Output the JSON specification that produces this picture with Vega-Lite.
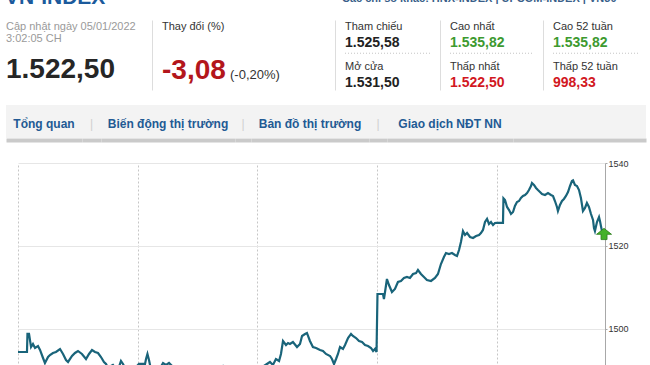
{
  "$schema": "https://vega.github.io/schema/vega-lite/v6.json",
  "padding": 0,
  "background": "white",
  "spacing": 15,
  "bounds": "full",
  "config": {"view": {"stroke": null}, "font": "Liberation Sans"},
  "datasets": {
    "hdr": [
      {"col": "c0", "row": "p1", "kind": "note", "text": "Cập nhật ngày 05/01/2022\n3:02:05 CH"},
      {"col": "c0", "row": "p2", "kind": "big", "tone": "flat", "text": "1.522,50"},
      {"col": "c1", "row": "p1", "kind": "label", "text": "Thay đổi (%)"},
      {"col": "c1", "row": "p2", "kind": "big", "tone": "down", "text": "-3,08"},
      {"col": "c1", "row": "p2", "kind": "pct", "text": "(-0,20%)"},
      {"col": "c2", "row": "p1", "kind": "label", "text": "Tham chiếu"},
      {"col": "c2", "row": "p1", "kind": "value", "tone": "flat", "text": "1.525,58"},
      {"col": "c2", "row": "p2", "kind": "label", "text": "Mở cửa"},
      {"col": "c2", "row": "p2", "kind": "value", "tone": "flat", "text": "1.531,50"},
      {"col": "c3", "row": "p1", "kind": "label", "text": "Cao nhất"},
      {"col": "c3", "row": "p1", "kind": "value", "tone": "up", "text": "1.535,82"},
      {"col": "c3", "row": "p2", "kind": "label", "text": "Thấp nhất"},
      {"col": "c3", "row": "p2", "kind": "value", "tone": "down", "text": "1.522,50"},
      {"col": "c4", "row": "p1", "kind": "label", "text": "Cao 52 tuần"},
      {"col": "c4", "row": "p1", "kind": "value", "tone": "up", "text": "1.535,82"},
      {"col": "c4", "row": "p2", "kind": "label", "text": "Thấp 52 tuần"},
      {"col": "c4", "row": "p2", "kind": "value", "tone": "down", "text": "998,33"}
    ],
    "series": [
      {"t":0,"v":1494.46},{"t":0.075,"v":1494.46},{"t":0.079,"v":1498.8},{"t":0.092,"v":1498.8},{"t":0.109,"v":1495.66},{"t":0.125,"v":1496.39},{"t":0.142,"v":1495.42},{"t":0.167,"v":1495.9},{"t":0.184,"v":1494.94},{"t":0.209,"v":1493.01},{"t":0.225,"v":1491.81},{"t":0.251,"v":1493.25},{"t":0.267,"v":1493.73},{"t":0.292,"v":1494.22},{"t":0.317,"v":1494.46},{"t":0.351,"v":1495.18},{"t":0.376,"v":1493.98},{"t":0.401,"v":1492.53},{"t":0.418,"v":1492.05},{"t":0.451,"v":1493.49},{"t":0.476,"v":1494.22},{"t":0.501,"v":1494.7},{"t":0.534,"v":1493.98},{"t":0.568,"v":1492.77},{"t":0.593,"v":1493.98},{"t":0.618,"v":1494.94},{"t":0.643,"v":1494.46},{"t":0.668,"v":1494.22},{"t":0.693,"v":1493.25},{"t":0.718,"v":1492.05},{"t":0.735,"v":1491.57},{"t":0.752,"v":1490.6},{"t":0.777,"v":1491.08},{"t":0.793,"v":1491.33},{"t":0.818,"v":1490.36},{"t":0.835,"v":1490.12},{"t":0.86,"v":1492.29},{"t":0.877,"v":1491.57},{"t":0.902,"v":1490.12},{"t":0.935,"v":1489.64},{"t":0.969,"v":1490.6},{"t":0.994,"v":1491.08},
      {"t":1.01,"v":1491.57},{"t":1.061,"v":1491.57},{"t":1.069,"v":1492.77},{"t":1.081,"v":1493.98},{"t":1.094,"v":1492.53},{"t":1.111,"v":1490.12},{"t":1.144,"v":1489.16},{"t":1.178,"v":1490.12},{"t":1.211,"v":1491.81},{"t":1.236,"v":1491.33},{"t":1.261,"v":1491.81},{"t":1.286,"v":1491.08},{"t":1.311,"v":1489.64},{"t":1.353,"v":1488.67},{"t":1.403,"v":1489.4},{"t":1.453,"v":1488.43},{"t":1.503,"v":1489.16},{"t":1.553,"v":1488.19},{"t":1.603,"v":1488.92},{"t":1.654,"v":1489.64},{"t":1.687,"v":1490.6},{"t":1.712,"v":1491.08},{"t":1.737,"v":1490.12},{"t":1.787,"v":1489.16},{"t":1.837,"v":1489.64},{"t":1.887,"v":1488.67},{"t":1.937,"v":1489.4},{"t":1.987,"v":1490.12},
      {"t":2.013,"v":1491.08},{"t":2.054,"v":1491.08},{"t":2.079,"v":1491.57},{"t":2.104,"v":1492.05},{"t":2.129,"v":1491.33},{"t":2.154,"v":1492.77},{"t":2.18,"v":1492.29},{"t":2.196,"v":1493.98},{"t":2.213,"v":1497.11},{"t":2.238,"v":1496.14},{"t":2.255,"v":1496.63},{"t":2.271,"v":1496.39},{"t":2.296,"v":1496.87},{"t":2.33,"v":1495.66},{"t":2.355,"v":1496.39},{"t":2.372,"v":1498.31},{"t":2.397,"v":1498.8},{"t":2.413,"v":1499.04},{"t":2.438,"v":1497.11},{"t":2.463,"v":1495.66},{"t":2.489,"v":1495.42},{"t":2.522,"v":1494.94},{"t":2.547,"v":1494.7},{"t":2.572,"v":1493.98},{"t":2.606,"v":1493.49},{"t":2.622,"v":1492.77},{"t":2.639,"v":1491.57},{"t":2.656,"v":1492.77},{"t":2.672,"v":1493.98},{"t":2.689,"v":1495.66},{"t":2.714,"v":1495.18},{"t":2.731,"v":1496.14},{"t":2.756,"v":1497.83},{"t":2.781,"v":1498.8},{"t":2.797,"v":1498.31},{"t":2.823,"v":1497.83},{"t":2.848,"v":1497.11},{"t":2.873,"v":1496.87},{"t":2.898,"v":1496.14},{"t":2.923,"v":1495.9},{"t":2.948,"v":1495.42},{"t":2.965,"v":1494.7},{"t":2.981,"v":1495.18},{"t":2.994,"v":1494.46},
      {"t":3.002,"v":1508.43},{"t":3.048,"v":1508.43},{"t":3.056,"v":1507.23},{"t":3.065,"v":1508.92},{"t":3.081,"v":1512.05},{"t":3.098,"v":1510.6},{"t":3.123,"v":1508.92},{"t":3.148,"v":1509.64},{"t":3.173,"v":1511.33},{"t":3.198,"v":1511.57},{"t":3.223,"v":1512.29},{"t":3.248,"v":1512.53},{"t":3.273,"v":1512.29},{"t":3.299,"v":1513.25},{"t":3.324,"v":1513.49},{"t":3.34,"v":1514.22},{"t":3.365,"v":1513.25},{"t":3.39,"v":1512.53},{"t":3.415,"v":1511.81},{"t":3.449,"v":1511.57},{"t":3.482,"v":1512.29},{"t":3.507,"v":1513.25},{"t":3.532,"v":1515.66},{"t":3.557,"v":1517.35},{"t":3.574,"v":1518.31},{"t":3.599,"v":1518.07},{"t":3.624,"v":1518.31},{"t":3.649,"v":1517.83},{"t":3.666,"v":1517.59},{"t":3.683,"v":1519.04},{"t":3.699,"v":1520.96},{"t":3.716,"v":1523.61},{"t":3.733,"v":1522.65},{"t":3.75,"v":1523.13},{"t":3.775,"v":1522.17},{"t":3.8,"v":1521.93},{"t":3.825,"v":1522.41},{"t":3.85,"v":1522.65},{"t":3.866,"v":1523.13},{"t":3.883,"v":1523.86},{"t":3.9,"v":1525.78},{"t":3.917,"v":1526.51},{"t":3.933,"v":1525.3},{"t":3.95,"v":1525.78},{"t":3.967,"v":1525.06},{"t":3.983,"v":1525.54},{"t":4.0,"v":1525.58},
      {"t":4.05,"v":1525.58},{"t":4.054,"v":1531.5},{"t":4.067,"v":1531.08},{"t":4.084,"v":1529.4},{"t":4.101,"v":1528.67},{"t":4.117,"v":1527.71},{"t":4.134,"v":1528.19},{"t":4.15,"v":1529.64},{"t":4.167,"v":1530.6},{"t":4.184,"v":1530.84},{"t":4.2,"v":1531.57},{"t":4.217,"v":1532.05},{"t":4.234,"v":1532.29},{"t":4.251,"v":1532.77},{"t":4.267,"v":1533.49},{"t":4.284,"v":1534.46},{"t":4.292,"v":1535.18},{"t":4.309,"v":1534.7},{"t":4.326,"v":1533.98},{"t":4.342,"v":1533.49},{"t":4.359,"v":1533.01},{"t":4.376,"v":1532.53},{"t":4.401,"v":1532.29},{"t":4.426,"v":1532.77},{"t":4.451,"v":1532.29},{"t":4.468,"v":1532.05},{"t":4.484,"v":1530.84},{"t":4.501,"v":1529.4},{"t":4.509,"v":1528.43},{"t":4.526,"v":1529.88},{"t":4.543,"v":1530.84},{"t":4.559,"v":1531.33},{"t":4.576,"v":1532.05},{"t":4.593,"v":1533.01},{"t":4.61,"v":1534.46},{"t":4.626,"v":1535.66},{"t":4.635,"v":1535.82},{"t":4.651,"v":1534.7},{"t":4.668,"v":1534.46},{"t":4.685,"v":1533.49},{"t":4.701,"v":1531.57},{"t":4.718,"v":1528.43},{"t":4.735,"v":1529.16},{"t":4.751,"v":1530.36},{"t":4.768,"v":1529.4},{"t":4.785,"v":1527.71},{"t":4.802,"v":1526.27},{"t":4.81,"v":1524.34},{"t":4.818,"v":1523.61},{"t":4.835,"v":1525.78},{"t":4.852,"v":1526.99},{"t":4.86,"v":1526.02},{"t":4.868,"v":1524.82},{"t":4.885,"v":1522.5}
    ]
  },
  "vconcat": [
    {
      "spacing": 0,
      "bounds": "flush",
      "hconcat": [
        {
          "width": 335, "height": 5,
          "data": {"values": [{"name": "VN-INDEX"}]},
          "mark": {"type": "text", "clip": true, "align": "left", "baseline": "alphabetic", "dy": 1.5, "fontSize": 21, "fontWeight": "bold", "color": "#1b5a9c"},
          "encoding": {
            "text": {"field": "name"},
            "x": {"datum": "L", "type": "nominal", "scale": {"type": "point", "domain": ["L", "R"], "padding": 0.01538}, "axis": null}
          }
        },
        {
          "width": 315, "height": 5,
          "data": {"values": [{"name": "Các chỉ số khác:  HNX-INDEX  |  UPCOM-INDEX  |  VN30"}]},
          "mark": {"type": "text", "clip": true, "align": "left", "baseline": "alphabetic", "dy": -1, "fontSize": 11, "fontWeight": "bold", "color": "#3a5f8a"},
          "encoding": {
            "text": {"field": "name"},
            "x": {"datum": "L", "type": "nominal", "scale": {"type": "point", "domain": ["L", "R"], "padding": 0.02326}, "axis": null}
          }
        }
      ]
    },
    {
      "spacing": 0,
      "bounds": "flush",
      "hconcat": [
        {
          "width": 152, "height": 70,
          "data": {"name": "hdr"},
          "transform": [{"filter": "datum.col == 'c0'"}],
          "encoding": {
            "x": {"datum": "L", "type": "nominal", "scale": {"type": "point", "domain": ["L", "R"], "padding": 0.0429}, "axis": null},
            "y": {"field": "row", "type": "nominal", "scale": {"type": "point", "domain": ["p1", "mid", "p2"], "padding": 0.772, "align": 0.344}, "axis": null},
            "text": {"field": "text"}
          },
          "layer": [
            {"transform": [{"filter": "datum.kind == 'note'"}], "mark": {"type": "text", "align": "left", "baseline": "alphabetic", "fontSize": 11, "color": "#9a9a9a", "lineBreak": "\n", "lineHeight": 12}},
            {"transform": [{"filter": "datum.kind == 'big'"}], "mark": {"type": "text", "align": "left", "baseline": "alphabetic", "dy": 8, "fontSize": 28, "fontWeight": "bold", "color": "#262626"}}
          ]
        },
        {
          "width": 183, "height": 70,
          "data": {"name": "hdr"},
          "transform": [{"filter": "datum.col == 'c1'"}],
          "encoding": {
            "x": {"datum": "L", "type": "nominal", "scale": {"type": "point", "domain": ["L", "R"], "padding": 0.0613}, "axis": null},
            "y": {"field": "row", "type": "nominal", "scale": {"type": "point", "domain": ["p1", "mid", "p2"], "padding": 0.772, "align": 0.344}, "axis": {"domainColor": "#dddddd", "ticks": false, "labels": false, "title": null, "grid": false}},
            "text": {"field": "text"}
          },
          "layer": [
            {"transform": [{"filter": "datum.kind == 'label'"}], "mark": {"type": "text", "align": "left", "baseline": "alphabetic", "fontSize": 11, "color": "#333333"}},
            {"transform": [{"filter": "datum.kind == 'big'"}], "mark": {"type": "text", "align": "left", "baseline": "alphabetic", "dy": 9, "fontSize": 28, "fontWeight": "bold", "color": "#b3161c"}},
            {"transform": [{"filter": "datum.kind == 'pct'"}], "mark": {"type": "text", "align": "left", "baseline": "alphabetic", "dy": 9, "dx": 68, "fontSize": 13, "color": "#333333"}}
          ]
        },
        {
          "width": 105, "height": 70,
          "data": {"name": "hdr"},
          "transform": [{"filter": "datum.col == 'c2'"}],
          "encoding": {
            "x": {"datum": "L", "type": "nominal", "scale": {"type": "point", "domain": ["L", "R"], "padding": 0.1176}, "axis": null},
            "y": {"field": "row", "type": "nominal", "scale": {"type": "point", "domain": ["p1", "mid", "p2"], "padding": 0.772, "align": 0.344}, "axis": {"domainColor": "#dddddd", "ticks": false, "labels": false, "title": null, "grid": false}}
          },
          "layer": [
            {"data": {"values": [{}]}, "mark": {"type": "rule", "strokeDash": [1, 2], "color": "#c4c4c4", "yOffset": 3}, "encoding": {"y": {"datum": "mid", "type": "nominal"}, "x2": {"datum": "R"}}},
            {"transform": [{"filter": "datum.kind == 'label'"}], "mark": {"type": "text", "align": "left", "baseline": "alphabetic", "fontSize": 11, "color": "#333333"}, "encoding": {"text": {"field": "text"}}},
            {"transform": [{"filter": "datum.kind == 'value' && datum.tone == 'flat'"}], "mark": {"type": "text", "align": "left", "baseline": "alphabetic", "dy": 17, "fontSize": 14, "fontWeight": "bold", "color": "#222222"}, "encoding": {"text": {"field": "text"}}}
          ]
        },
        {
          "width": 103, "height": 70,
          "data": {"name": "hdr"},
          "transform": [{"filter": "datum.col == 'c3'"}],
          "encoding": {
            "x": {"datum": "L", "type": "nominal", "scale": {"type": "point", "domain": ["L", "R"], "padding": 0.1205}, "axis": null},
            "y": {"field": "row", "type": "nominal", "scale": {"type": "point", "domain": ["p1", "mid", "p2"], "padding": 0.772, "align": 0.344}, "axis": {"domainColor": "#dddddd", "ticks": false, "labels": false, "title": null, "grid": false}}
          },
          "layer": [
            {"data": {"values": [{}]}, "mark": {"type": "rule", "strokeDash": [1, 2], "color": "#c4c4c4", "yOffset": 3}, "encoding": {"y": {"datum": "mid", "type": "nominal"}, "x2": {"datum": "R"}}},
            {"transform": [{"filter": "datum.kind == 'label'"}], "mark": {"type": "text", "align": "left", "baseline": "alphabetic", "fontSize": 11, "color": "#333333"}, "encoding": {"text": {"field": "text"}}},
            {"transform": [{"filter": "datum.kind == 'value' && datum.tone == 'up'"}], "mark": {"type": "text", "align": "left", "baseline": "alphabetic", "dy": 17, "fontSize": 14, "fontWeight": "bold", "color": "#3d9a2f"}, "encoding": {"text": {"field": "text"}}},
            {"transform": [{"filter": "datum.kind == 'value' && datum.tone == 'down'"}], "mark": {"type": "text", "align": "left", "baseline": "alphabetic", "dy": 17, "fontSize": 14, "fontWeight": "bold", "color": "#d2181f"}, "encoding": {"text": {"field": "text"}}}
          ]
        },
        {
          "width": 107, "height": 70,
          "data": {"name": "hdr"},
          "transform": [{"filter": "datum.col == 'c4'"}],
          "encoding": {
            "x": {"datum": "L", "type": "nominal", "scale": {"type": "point", "domain": ["L", "R"], "padding": 0.1149}, "axis": null},
            "y": {"field": "row", "type": "nominal", "scale": {"type": "point", "domain": ["p1", "mid", "p2"], "padding": 0.772, "align": 0.344}, "axis": {"domainColor": "#dddddd", "ticks": false, "labels": false, "title": null, "grid": false}}
          },
          "layer": [
            {"data": {"values": [{}]}, "mark": {"type": "rule", "strokeDash": [1, 2], "color": "#c4c4c4", "yOffset": 3}, "encoding": {"y": {"datum": "mid", "type": "nominal"}, "x2": {"datum": "R"}}},
            {"transform": [{"filter": "datum.kind == 'label'"}], "mark": {"type": "text", "align": "left", "baseline": "alphabetic", "fontSize": 11, "color": "#333333"}, "encoding": {"text": {"field": "text"}}},
            {"transform": [{"filter": "datum.kind == 'value' && datum.tone == 'up'"}], "mark": {"type": "text", "align": "left", "baseline": "alphabetic", "dy": 17, "fontSize": 14, "fontWeight": "bold", "color": "#3d9a2f"}, "encoding": {"text": {"field": "text"}}},
            {"transform": [{"filter": "datum.kind == 'value' && datum.tone == 'down'"}], "mark": {"type": "text", "align": "left", "baseline": "alphabetic", "dy": 17, "fontSize": 14, "fontWeight": "bold", "color": "#d2181f"}, "encoding": {"text": {"field": "text"}}}
          ]
        }
      ]
    },
    {
      "spacing": 0,
      "bounds": "flush",
      "hconcat": [
        {"width": 6, "height": 33, "data": {"values": []}, "mark": "text", "encoding": {}},
        {"width": 76, "height": 33, "view": {"fill": "#f3f3f3", "stroke": null}, "data": {"values": [{"tab": "Tổng quan"}]},
         "mark": {"type": "text", "baseline": "alphabetic", "dy": 6.5, "fontSize": 12, "fontWeight": "bold", "color": "#225a94"},
         "encoding": {"text": {"field": "tab"}, "x": {"datum": "c", "type": "nominal", "scale": {"type": "point"}, "axis": {"orient": "bottom", "labels": false, "ticks": false, "title": null, "grid": false, "domainColor": "#cacaca", "domainWidth": 4, "offset": 2}}}},
        {"width": 19, "height": 33, "view": {"fill": "#f3f3f3", "stroke": null}, "data": {"values": [{"tab": "|"}]},
         "mark": {"type": "text", "baseline": "alphabetic", "dy": 6.5, "fontSize": 12, "color": "#d0d0d0"},
         "encoding": {"text": {"field": "tab"}, "x": {"datum": "c", "type": "nominal", "scale": {"type": "point"}, "axis": {"orient": "bottom", "labels": false, "ticks": false, "title": null, "grid": false, "domainColor": "#cacaca", "domainWidth": 4, "offset": 2}}}},
        {"width": 134, "height": 33, "view": {"fill": "#f3f3f3", "stroke": null}, "data": {"values": [{"tab": "Biến động thị trường"}]},
         "mark": {"type": "text", "baseline": "alphabetic", "dy": 6.5, "fontSize": 12, "fontWeight": "bold", "color": "#225a94"},
         "encoding": {"text": {"field": "tab"}, "x": {"datum": "c", "type": "nominal", "scale": {"type": "point"}, "axis": {"orient": "bottom", "labels": false, "ticks": false, "title": null, "grid": false, "domainColor": "#cacaca", "domainWidth": 4, "offset": 2}}}},
        {"width": 16, "height": 33, "view": {"fill": "#f3f3f3", "stroke": null}, "data": {"values": [{"tab": "|"}]},
         "mark": {"type": "text", "baseline": "alphabetic", "dy": 6.5, "fontSize": 12, "color": "#d0d0d0"},
         "encoding": {"text": {"field": "tab"}, "x": {"datum": "c", "type": "nominal", "scale": {"type": "point"}, "axis": {"orient": "bottom", "labels": false, "ticks": false, "title": null, "grid": false, "domainColor": "#cacaca", "domainWidth": 4, "offset": 2}}}},
        {"width": 118, "height": 33, "view": {"fill": "#f3f3f3", "stroke": null}, "data": {"values": [{"tab": "Bản đồ thị trường"}]},
         "mark": {"type": "text", "baseline": "alphabetic", "dy": 6.5, "fontSize": 12, "fontWeight": "bold", "color": "#225a94"},
         "encoding": {"text": {"field": "tab"}, "x": {"datum": "c", "type": "nominal", "scale": {"type": "point"}, "axis": {"orient": "bottom", "labels": false, "ticks": false, "title": null, "grid": false, "domainColor": "#cacaca", "domainWidth": 4, "offset": 2}}}},
        {"width": 18, "height": 33, "view": {"fill": "#f3f3f3", "stroke": null}, "data": {"values": [{"tab": "|"}]},
         "mark": {"type": "text", "baseline": "alphabetic", "dy": 6.5, "fontSize": 12, "color": "#d0d0d0"},
         "encoding": {"text": {"field": "tab"}, "x": {"datum": "c", "type": "nominal", "scale": {"type": "point"}, "axis": {"orient": "bottom", "labels": false, "ticks": false, "title": null, "grid": false, "domainColor": "#cacaca", "domainWidth": 4, "offset": 2}}}},
        {"width": 126, "height": 33, "view": {"fill": "#f3f3f3", "stroke": null}, "data": {"values": [{"tab": "Giao dịch NĐT NN"}]},
         "mark": {"type": "text", "baseline": "alphabetic", "dy": 6.5, "fontSize": 12, "fontWeight": "bold", "color": "#225a94"},
         "encoding": {"text": {"field": "tab"}, "x": {"datum": "c", "type": "nominal", "scale": {"type": "point"}, "axis": {"orient": "bottom", "labels": false, "ticks": false, "title": null, "grid": false, "domainColor": "#cacaca", "domainWidth": 4, "offset": 2}}}},
        {"width": 133, "height": 33, "view": {"fill": "#f3f3f3", "stroke": null}, "data": {"values": [{"tab": ""}]},
         "mark": {"type": "text", "baseline": "alphabetic", "dy": 6.5, "fontSize": 12},
         "encoding": {"text": {"field": "tab"}, "x": {"datum": "c", "type": "nominal", "scale": {"type": "point"}, "axis": {"orient": "bottom", "labels": false, "ticks": false, "title": null, "grid": false, "domainColor": "#cacaca", "domainWidth": 4, "offset": 2}}}}
      ]
    },
    {
      "spacing": 0,
      "bounds": "flush",
      "hconcat": [
        {"width": 18, "height": 204, "data": {"values": []}, "mark": "text", "encoding": {}},
        {
          "width": 587, "height": 204,
          "encoding": {
            "x": {"field": "t", "type": "quantitative", "scale": {"domain": [0, 4.902], "nice": false, "zero": false},
                  "axis": {"orient": "top", "offset": 8, "values": [0, 1, 2, 3, 4], "grid": true, "gridDash": [2, 2], "gridColor": "#c6c6c6", "gridWidth": 1, "labels": false, "ticks": false, "domain": true, "domainOpacity": 0, "title": null}},
            "y": {"field": "v", "type": "quantitative", "scale": {"domain": [1490.84, 1540], "nice": false, "zero": false},
                  "axis": {"orient": "right", "values": [1500, 1520, 1540], "format": "d", "grid": true, "gridColor": "#e6e6e6", "domainColor": "#a8a8a8", "tickColor": "#a8a8a8", "tickSize": 2, "labelPadding": 1, "labelFontSize": 9, "labelColor": "#333333", "title": null}}
          },
          "layer": [
            {"data": {"name": "series"}, "mark": {"type": "line", "color": "#19647a", "strokeWidth": 2.2, "clip": true}},
            {"data": {"values": [{"t": 4.894, "v": 1522.9}]},
             "mark": {"type": "point", "shape": "M0,-0.75L1,0.05L0.4,0.05L0.4,0.75L-0.4,0.75L-0.4,0.05L-1,0.05Z", "size": 225, "filled": true, "fill": "#45b12b", "stroke": "#2c7e1d", "strokeWidth": 0.8, "opacity": 1}}
          ]
        }
      ]
    }
  ]
}
